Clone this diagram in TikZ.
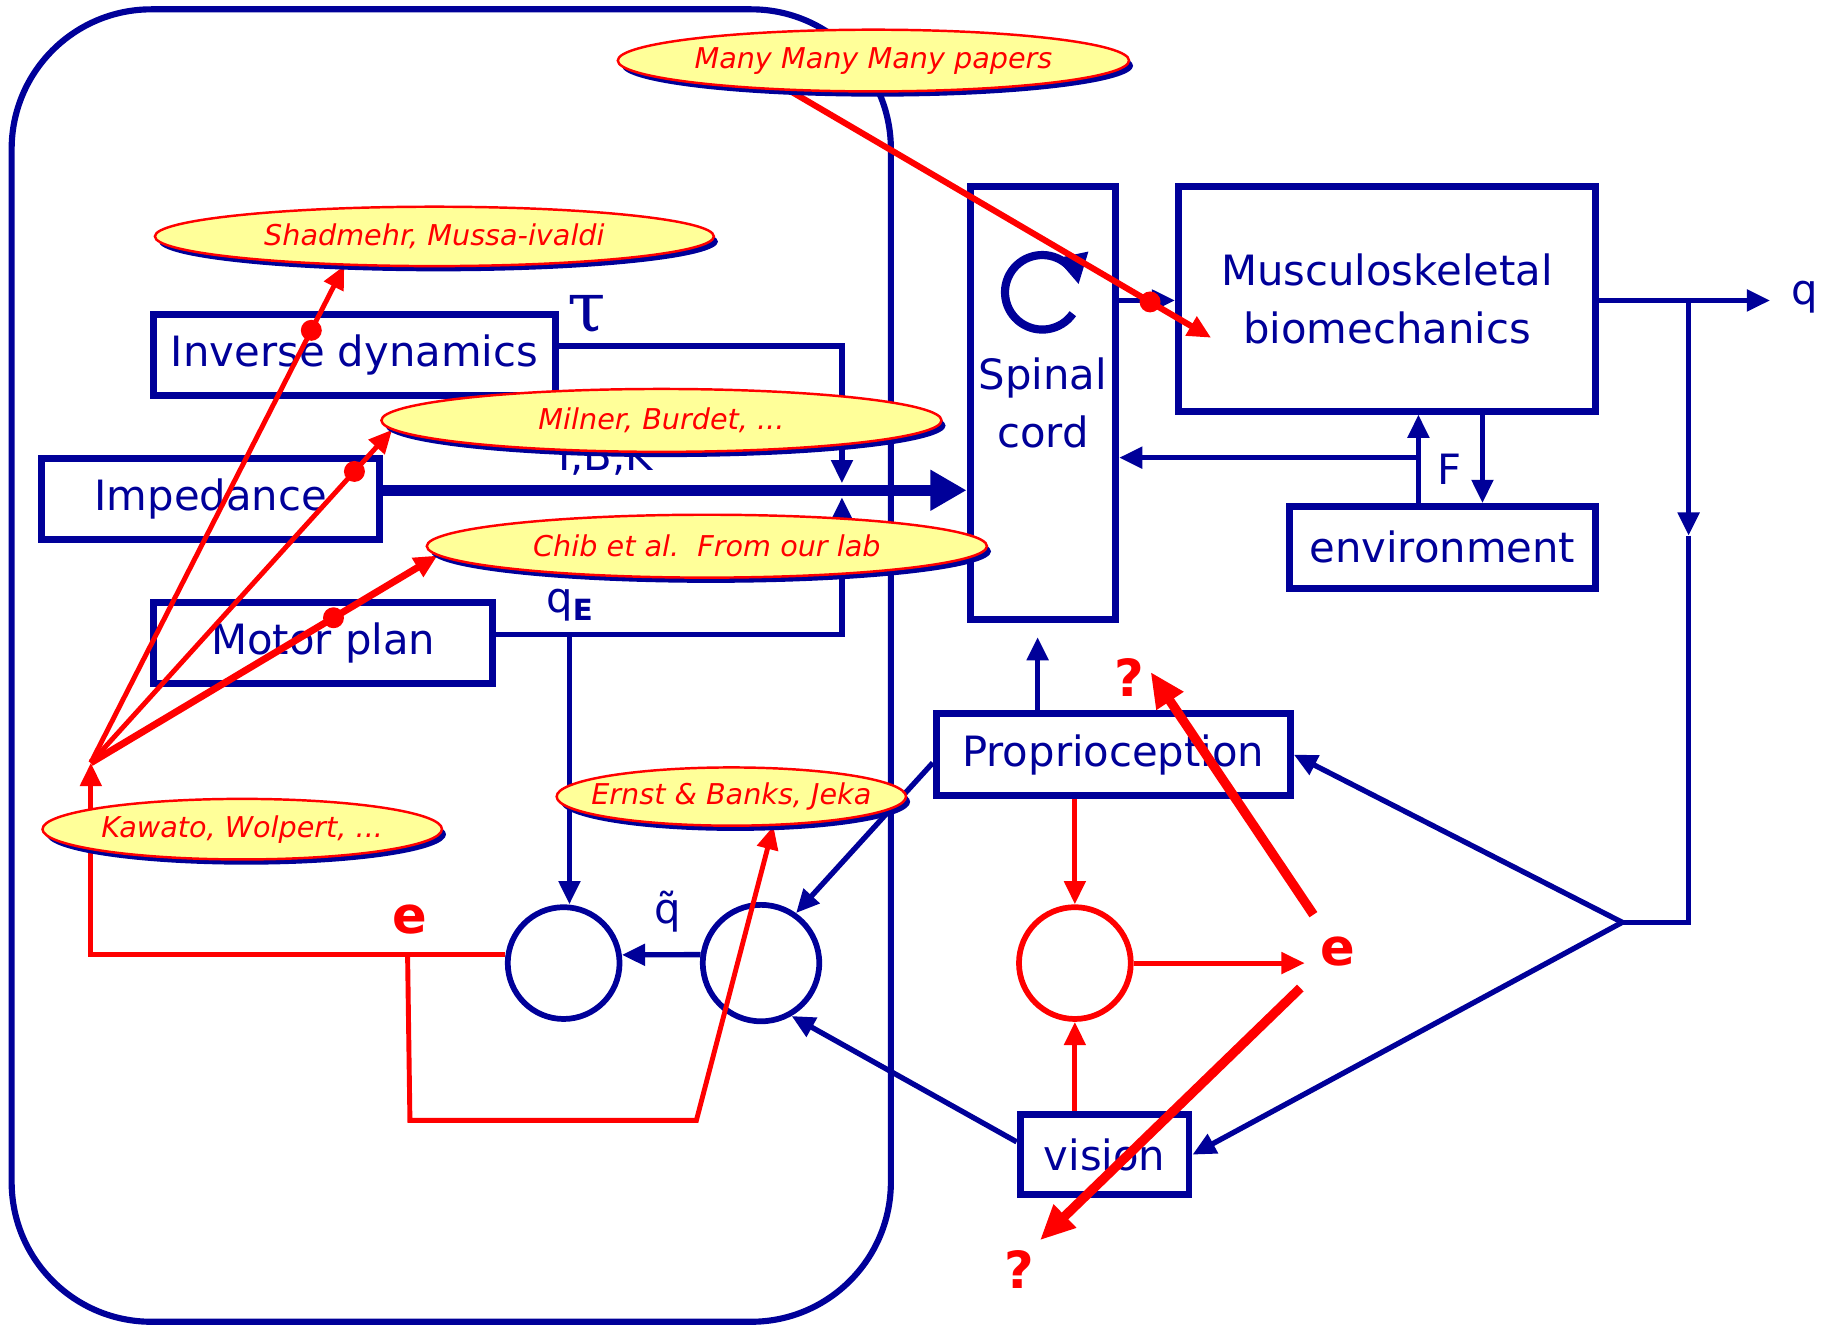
\documentclass[tikz,border=0pt]{standalone}
\usepackage{fontspec}
\setmainfont{DejaVu Sans}
\newfontfamily\greekserif{DejaVu Serif}
\usepackage{tikz}
\usetikzlibrary{shapes,arrows.meta,positioning,shadows}

\definecolor{navy}{RGB}{0,0,153}
\definecolor{note}{RGB}{255,255,153}

\pgfdeclarelayer{front}
\pgfsetlayers{main,front}

\begin{document}
\begin{tikzpicture}[
    box/.style={rectangle, draw=navy, line width=1.7pt, inner sep=0pt, text=navy, align=center, font=\fontsize{10.2}{14.2}\selectfont},
    sumnode/.style={circle, draw=navy, line width=1.4pt, minimum size=0.96cm, inner sep=0pt},
    cite/.style={ellipse, draw=red, line width=0.6pt, fill=note, inner xsep=-0.6cm, inner ysep=0pt, text=red, font=\fontsize{7}{8}\selectfont\itshape,
        drop shadow={shadow xshift=0.035cm, shadow yshift=-0.045cm, fill=navy, opacity=1}},
    sig/.style={navy, line width=1.3pt},
    err/.style={red, line width=1.2pt},
    lbl/.style={text=navy, inner sep=0pt, font=\fontsize{10.2}{12}\selectfont},
    elbl/.style={text=red, inner sep=0pt, font=\fontsize{12.5}{14}\selectfont\bfseries},
    hit/.style={circle, fill=red, inner sep=0pt, minimum size=0.18cm},
    >={Triangle[length=2mm, width=1.8mm]}
]
\useasboundingbox (0,0) rectangle (15.68,11.39);

% Literature notes (on top of everything)
\begin{pgfonlayer}{front}
\node[cite, minimum width=4.39cm, minimum height=0.53cm] (papers) at (7.50,10.87) {Many Many Many papers};
\node[cite, minimum width=4.80cm, minimum height=0.51cm] (shadmehr) at (3.73,9.36) {Shadmehr, Mussa-ivaldi};
\node[cite, minimum width=4.81cm, minimum height=0.54cm] (milner) at (5.68,7.78) {Milner, Burdet, ...};
\node[cite, minimum width=4.81cm, minimum height=0.54cm] (chib) at (6.07,6.70) {Chib et al.\ \ From our lab};
\node[cite, minimum width=3.43cm, minimum height=0.52cm] (kawato) at (2.08,4.27) {Kawato, Wolpert, ...};
\node[cite, minimum width=3.00cm, minimum height=0.50cm] (ernst) at (6.28,4.55) {Ernst \& Banks, Jeka};
\end{pgfonlayer}

% Brain
\draw[navy, line width=1.5pt, rounded corners=1.2cm] (0.10,0.04) rectangle (7.65,11.31);

% Blocks
\node[box, minimum width=3.45cm, minimum height=0.70cm] (invdyn) at (3.045,8.34) {Inverse dynamics};
\node[box, minimum width=2.90cm, minimum height=0.69cm] (imped) at (1.81,7.105) {Impedance};
\node[box, minimum width=2.91cm, minimum height=0.70cm] (motor) at (2.775,5.87) {Motor plan};
\node[box, minimum width=1.25cm, minimum height=3.72cm] (spinal) at (8.955,7.93) {Spinal\\cord};
\node[box, minimum width=3.58cm, minimum height=1.93cm] (musc) at (11.91,8.825) {Musculoskeletal\\biomechanics};
\node[box, minimum width=2.63cm, minimum height=0.70cm] (env) at (12.385,6.69) {environment};
\node[box, minimum width=3.04cm, minimum height=0.70cm] (proprio) at (9.56,4.91) {Proprioception};
\node[box, minimum width=1.45cm, minimum height=0.69cm] (vision) at (9.485,1.475) {vision};

% Comparators
\node[sumnode] (sumA) at (4.84,3.12) {};
\node[sumnode, minimum size=1.0cm] (sumB) at (6.535,3.12) {};
\node[sumnode, draw=red] (sumC) at (9.23,3.12) {};

% Reflex loop symbol
\draw[navy, line width=2pt, -{Triangle[length=2.6mm, width=2.6mm]}]
    ([shift={(-35:0.32)}]8.95,8.88) arc[start angle=-35, end angle=-348, radius=0.32];

% Labels
\node[lbl, font=\fontsize{17}{17}\greekserif] (tau) at (5.04,8.69) {τ};
\node[lbl] (ibk) at (5.20,7.46) {I,B,K};
\node[lbl] (qE) at (4.90,6.19) {q\textsubscript{\textbf{E}}};
\node[lbl] (F) at (12.45,7.36) {F};
\node[lbl] (qt) at (5.73,3.56) {q̃};
\node[lbl, anchor=west] (qlab) at (15.38,8.84) {q};
\node[elbl] (eL) at (3.52,3.49) {e};
\node[elbl] (eR) at (11.49,3.22) {e};
\node[elbl] (qmA) at (9.70,5.57) {?};
\node[elbl] (qmB) at (8.75,0.49) {?};

% Descending commands
\coordinate (jtop) at (7.23,7.24);
\coordinate (jmid) at (7.23,7.18);
\coordinate (jbot) at (7.23,7.12);
\coordinate (qE0) at (4.89,5.94);
\draw[sig, ->] ([yshift=0.8mm]invdyn.east) -| (jtop);
\draw[sig, ->] ([yshift=0.7mm]motor.east) -| (jbot);
\draw[navy, line width=2.6pt, -{Triangle[length=3.1mm, width=3.3mm]}] (imped.east |- jmid) -- (spinal.west |- jmid);
\draw[sig, ->] (qE0) -- (qE0 |- sumA.north);
\draw[sig, ->] (sumB.172) -- (sumA.8);

% Plant and feedback
\coordinate (qbr) at (14.50,8.81);
\coordinate (qdn) at (14.50,6.79);
\coordinate (qend) at (15.20,8.81);
\coordinate (fork) at (13.93,3.47);
\coordinate (fdn) at (12.73,7.46);
\coordinate (fup) at (12.18,7.46);
\coordinate (spin) at (8.91,5.92);
\draw[sig, ->] (spinal.east |- qbr) -- (musc.west |- qbr);
\draw[sig, ->] (musc.east |- qbr) -- (qend);
\draw[sig, ->] (qbr) -- (qdn);
\draw[sig] (qdn) |- (fork);
\draw[sig, ->] (fork) -- (proprio.east);
\draw[sig, ->] (fork) -- (vision.east);
\draw[sig, ->] (musc.south -| fdn) -- (env.north -| fdn);
\draw[sig, ->] (env.north -| fup) -- (musc.south -| fup);
\draw[sig, ->] (fup) -- (spinal.east |- fup);
\draw[sig, ->] (proprio.north -| spin) -- (spin);
\draw[sig, ->] ([yshift=-0.7mm]proprio.west) -- (sumB.55);
\draw[sig, ->] ([yshift=1.1mm]vision.west) -- (sumB.-60);

% Sensory error
\draw[err, ->] (proprio.south -| sumC.north) -- (sumC.north);
\draw[err, ->] (vision.north -| sumC.south) -- (sumC.south);
\draw[err, ->, shorten >=1.3mm] (sumC.east) -- (sumC.east -| eR.west);
\coordinate (tipA) at (9.88,5.62);
\coordinate (tipB) at (8.93,0.74);
\draw[red, line width=2.3pt, shorten <=2.2mm, -{Triangle[length=3mm, width=2.6mm]}] (eR) -- (tipA);
\draw[red, line width=2.3pt, shorten <=2.6mm, -{Triangle[length=3mm, width=2.6mm]}] (eR) -- (tipB);

% Motor error and learning
\coordinate (fan) at (0.78,4.84);
\coordinate (eBr) at (3.50,3.187);
\coordinate (lowL) at (3.52,1.77);
\coordinate (lowR) at (5.98,1.77);
\draw[err, ->] (sumA.172) -| (fan);
\draw[err, ->] (eBr) -- (lowL) -- (lowR) -- (ernst.-35);
\draw[err, ->] (fan) -- (shadmehr.198) node[hit, pos=0.87] {};
\draw[err, ->] (fan) -- (milner.182) node[hit, pos=0.875] {};
\draw[red, line width=1.7pt, ->] (fan) -- (chib.182) node[hit, pos=0.70] {};
\coordinate (msTip) at (10.40,8.49);
\draw[red, line width=1.5pt, ->] (papers.200) -- (msTip) node[hit, pos=0.855] {};

\end{tikzpicture}
\end{document}
